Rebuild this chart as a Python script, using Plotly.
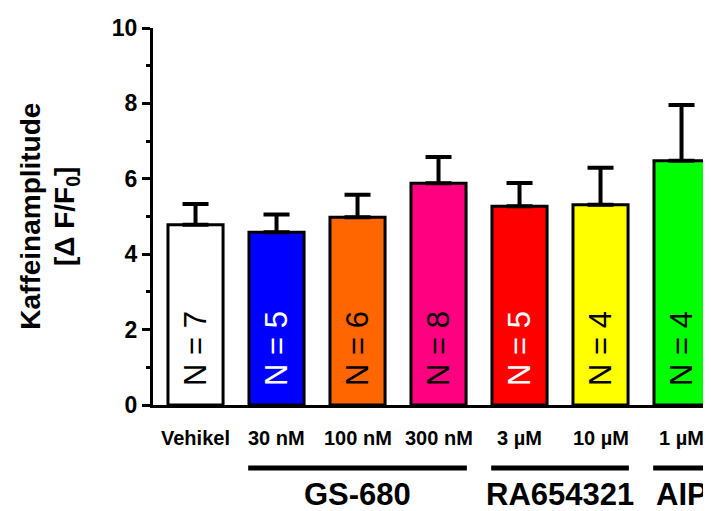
import plotly.graph_objects as go

# ---- data ----
categories = ["Vehikel", "30 nM", "100 nM", "300 nM", "3 µM", "10 µM", "1 µM"]
means = [4.78, 4.58, 4.98, 5.88, 5.27, 5.31, 6.48]
sem = [0.55, 0.47, 0.60, 0.70, 0.62, 0.98, 1.48]
n_values = [7, 5, 6, 8, 5, 4, 4]
bar_colors = ["#FFFFFF", "#0000FF", "#FF6600", "#FF0080", "#FF0000", "#FFFF00", "#00FF00"]
n_text_colors = ["black", "white", "black", "black", "white", "black", "black"]
groups = [("GS-680", 1, 3), ("RA654321", 4, 5), ("AIP", 6, 6)]

FONT = "Liberation Sans, Arial, sans-serif"
x = list(range(len(categories)))

fig = go.Figure()
fig.add_trace(go.Bar(
    x=x, y=means, width=0.68,
    marker=dict(color=bar_colors, line=dict(color="black", width=3)),
    error_y=dict(type="data", symmetric=False, array=sem,
                 arrayminus=[0] * len(sem), color="black",
                 thickness=4, width=13),
    showlegend=False, hoverinfo="skip",
))

annotations = []
# N labels inside bars
for i, (n, c) in enumerate(zip(n_values, n_text_colors)):
    annotations.append(dict(x=i, y=1.5, xref="x", yref="y", text=f"N = {n}",
                            textangle=-90, showarrow=False,
                            font=dict(family=FONT, size=31, color=c)))
# category labels
for i, lab in enumerate(categories):
    annotations.append(dict(x=i, y=-0.088, xref="x", yref="paper", text=f"<b>{lab}</b>",
                            showarrow=False, yanchor="middle",
                            font=dict(family=FONT, size=20, color="black")))
# group lines + labels
shapes = []
for name, a, b in groups:
    shapes.append(dict(type="line", xref="x", yref="paper", x0=a - 0.35, x1=b + 0.35,
                       y0=-0.167, y1=-0.167, line=dict(color="black", width=5)))
    annotations.append(dict(x=(a + b) / 2, y=-0.238, xref="x", yref="paper",
                            text=f"<b>{name}</b>", showarrow=False, yanchor="middle",
                            font=dict(family=FONT, size=31, color="black")))
# y title
annotations.append(dict(x=-0.22, y=0.5, xref="paper", yref="paper",
                        text="<b>Kaffeinamplitude</b>", textangle=-90, showarrow=False,
                        xanchor="center", yanchor="middle",
                        font=dict(family=FONT, size=28, color="black")))
annotations.append(dict(x=-0.155, y=0.5, xref="paper", yref="paper",
                        text="<b>[Δ F/F<sub>0</sub>]</b>", textangle=-90, showarrow=False,
                        xanchor="center", yanchor="middle",
                        font=dict(family=FONT, size=28, color="black")))

fig.update_layout(
    width=703, height=503,
    margin=dict(l=145, r=0, t=20, b=106),
    paper_bgcolor="white", plot_bgcolor="white",
    annotations=annotations, shapes=shapes,
    xaxis=dict(range=[-0.525, 6.364], showline=True, linecolor="black", linewidth=3,
               showticklabels=False, ticks="", showgrid=False, zeroline=False),
    yaxis=dict(range=[0, 10], dtick=2, showline=True, linecolor="black", linewidth=3,
               ticks="outside", ticklen=8, tickwidth=3, tickcolor="black",
               minor=dict(dtick=1, ticks="outside", ticklen=4, tickwidth=3, tickcolor="black"),
               showgrid=False, zeroline=False,
               tickfont=dict(family=FONT, size=23, color="black", weight="bold")),
)

fig.write_html("out.html")
